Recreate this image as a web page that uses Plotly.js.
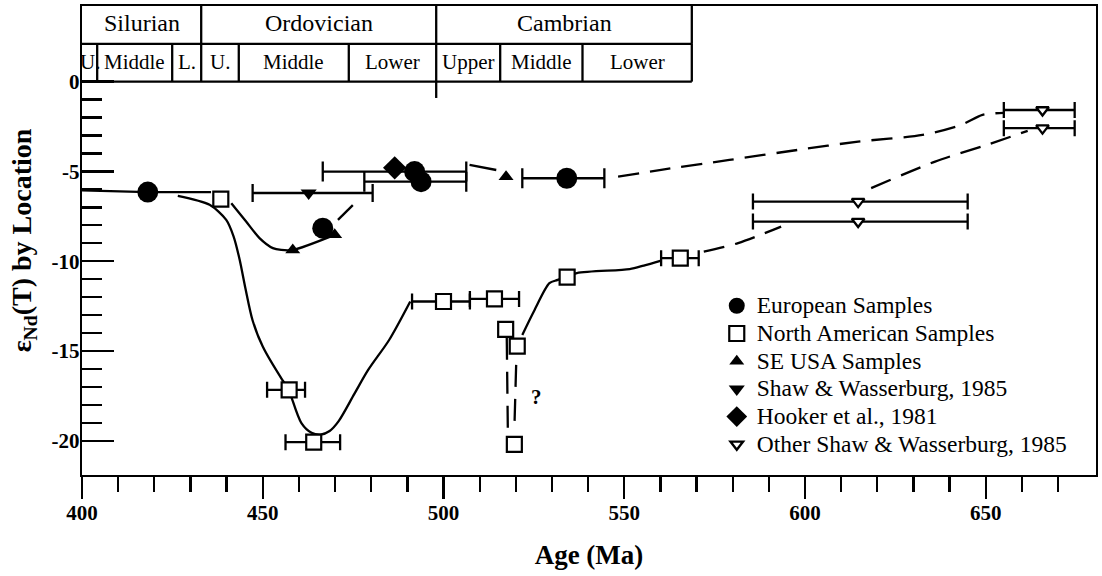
<!DOCTYPE html>
<html>
<head>
<meta charset="utf-8">
<script src="https://cdn.plot.ly/plotly-3.0.1.min.js"></script>
<style>html,body{margin:0;padding:0;background:#fff;}#chart{width:1102px;height:576px;}</style>
</head>
<body>
<div id="chart"></div>
<script>
// ---------------- DATA ----------------
// European Samples (filled circles)
const euAge = [418.2, 466.6, 492.0, 493.8, 534.1];
const euEps = [-6.15, -8.16, -5.01, -5.57, -5.38];
const euErrMinus = [0, 0, 25.4, 15.7, 12.3];
const euErrPlus  = [0, 0, 14.3, 12.5, 10.4];

// North American Samples (open squares)
const naAge = [438.4, 457.3, 464.1, 500.0, 514.1, 517.2, 520.4, 519.6, 534.2, 565.5];
const naEps = [-6.54, -17.16, -20.07, -12.24, -12.10, -13.79, -14.72, -20.20, -10.88, -9.83];
const naErrMinus = [0, 6.1, 7.8, 8.7, 6.8, 0, 0, 0, 0, 5.3];
const naErrPlus  = [0, 4.4, 7.3, 7.3, 6.8, 0, 0, 0, 0, 5.1];

// SE USA Samples (filled triangles)
const seAge = [458.3, 469.9, 517.3];
const seEps = [-9.37, -8.53, -5.29];

// Shaw & Wasserburg, 1985 (filled inverted triangle)
const swAge = [462.7];
const swEps = [-6.2];
const swErrMinus = [15.5];
const swErrPlus  = [17.7];

// Hooker et al., 1981 (diamond)
const hkAge = [486.5];
const hkEps = [-4.8];

// Other Shaw & Wasserburg, 1985 (open inverted triangles)
const osAge = [614.7, 614.7, 665.7, 665.7];
const osEps = [-6.68, -7.79, -1.58, -2.59];
const osErrMinus = [29.1, 29.1, 10.7, 10.7];
const osErrPlus  = [30.3, 30.3, 8.9, 8.9];

// Trend curves
const curveEuLeftAge = [400, 418.2, 435.7];
const curveEuLeftEps = [-6.05, -6.15, -6.15];

const curveNaDeepAge = [426.5, 435.3, 439.9, 441.9, 443.6, 445.2, 447.2, 450.0, 455.4, 457.3, 458.0, 460.7, 463.5, 466.0, 468.5, 471.0, 475.3, 479.2, 485.0, 490.8];
const curveNaDeepEps = [-6.36, -6.86, -7.70, -8.60, -9.90, -11.50, -13.30, -14.75, -16.60, -17.16, -17.60, -19.01, -19.55, -19.65, -19.45, -18.90, -17.40, -16.04, -14.37, -12.24];

const curveSeAge = [441.3, 445.4, 449.1, 452.8, 455.1, 458.3, 469.9];
const curveSeEps = [-6.77, -7.79, -8.71, -9.27, -9.37, -9.37, -8.53];

const dashSeAge = [470.8, 475.9];
const dashSeEps = [-7.70, -6.68];

const curveEuMidAge = [507.2, 514.6];
const curveEuMidEps = [-4.64, -4.92];

const dashUpperAge = [548.3, 560.2, 579.1, 598.1, 614.7, 632.5, 643.2, 649.1, 654.9];
const dashUpperEps = [-5.29, -4.91, -4.36, -3.80, -3.34, -2.97, -2.41, -1.85, -1.74];

const dashOtherAge = [618.3, 636.0, 650.3, 661.6];
const dashOtherEps = [-5.93, -4.45, -3.52, -2.74];

const curveNaRightAge = [521.8, 525.2, 529.3, 531.6, 536.9, 551.5, 555.4, 560.2];
const curveNaRightEps = [-14.10, -12.71, -11.22, -11.04, -10.66, -10.44, -10.24, -9.96];

const dashNaRightAge = [572.0, 581.5, 593.4];
const dashNaRightEps = [-9.46, -8.99, -8.07];

const dashQLeftAge = [517.5, 517.8];
const dashQLeftEps = [-14.26, -19.44];
const dashQRightAge = [520.1, 519.6];
const dashQRightEps = [-15.77, -19.38];

// Geologic time table
const periodNames = ['Silurian', 'Ordovician', 'Cambrian'];
const periodBounds = [400, 432.97, 497.98, 568.69];
const epochNames = ['U.', 'Middle', 'L.', 'U.', 'Middle', 'Lower', 'Upper', 'Middle', 'Lower'];
const epochBounds = [400, 404.2, 424.95, 432.97, 443.37, 473.8, 497.98, 515.68, 538.45, 568.69];

// Axis ticks
const xMajorTicks = [400, 450, 500, 550, 600, 650];
const xMinorTicks = [410, 420, 430, 440, 460, 470, 480, 490, 510, 520, 530, 540, 560, 570, 580, 590, 610, 620, 630, 640, 660, 670];
const yMajorTicks = [0, -5, -10, -15, -20];
const yMajorText = ['0', '-5', '-10', '-15', '-20'];
const yMinorTicks = [-1, -2, -3, -4, -6, -7, -8, -9, -11, -12, -13, -14, -16, -17, -18, -19];

// ---------------- STYLE ----------------
const SERIF = 'Liberation Serif';
const K = '#000';
const LW = 2.3;

function lineTrace(xs, ys, dash, shape) {
  return {x: xs, y: ys, type: 'scatter', mode: 'lines', showlegend: false, hoverinfo: 'skip',
          line: {color: K, width: LW, dash: dash || 'solid', shape: shape || 'spline', smoothing: 0.8}};
}
function errTrace(xs, ys, minus, plus, cap) {
  const ix = [];
  for (let i = 0; i < xs.length; i++) if (minus[i] > 0 || plus[i] > 0) ix.push(i);
  return {x: ix.map(i => xs[i]), y: ix.map(i => ys[i]), type: 'scatter', mode: 'markers',
          showlegend: false, hoverinfo: 'skip',
          marker: {size: 1, color: 'rgba(0,0,0,0)'},
          error_x: {type: 'data', symmetric: false, array: ix.map(i => plus[i]), arrayminus: ix.map(i => minus[i]),
                    color: K, thickness: LW, width: cap}};
}
function legendLabel(t) { return '<span style="font-size:23.5px">' + t + '</span>'; }

const LONGDASH = '21px,11px';

const traces = [
  lineTrace(curveEuLeftAge, curveEuLeftEps, 'solid', 'linear'),
  lineTrace(curveNaDeepAge, curveNaDeepEps),
  lineTrace(curveSeAge, curveSeEps),
  lineTrace(dashSeAge, dashSeEps, LONGDASH, 'linear'),
  lineTrace(curveEuMidAge, curveEuMidEps, 'solid', 'linear'),
  lineTrace(dashUpperAge, dashUpperEps, LONGDASH),
  lineTrace(dashOtherAge, dashOtherEps, LONGDASH),
  lineTrace(curveNaRightAge, curveNaRightEps),
  lineTrace(dashNaRightAge, dashNaRightEps, LONGDASH),
  lineTrace(dashQLeftAge, dashQLeftEps, '22px,12px', 'linear'),
  lineTrace(dashQRightAge, dashQRightEps, '22px,12px', 'linear'),
  errTrace(euAge, euEps, euErrMinus, euErrPlus, 10),
  errTrace(naAge, naEps, naErrMinus, naErrPlus, 8),
  errTrace(swAge, swEps, swErrMinus, swErrPlus, 9),
  errTrace(osAge, osEps, osErrMinus, osErrPlus, 8),
  {name: legendLabel('European Samples'), x: euAge, y: euEps, type: 'scatter', mode: 'markers',
   marker: {symbol: 'circle', size: 21, color: K, line: {width: 0}}},
  {name: legendLabel('North American Samples'), x: naAge, y: naEps, type: 'scatter', mode: 'markers',
   marker: {symbol: 'square', size: 15, color: '#fff', line: {color: K, width: 2.2}}},
  {name: legendLabel('SE USA Samples'), x: seAge, y: seEps, type: 'scatter', mode: 'markers',
   marker: {symbol: 'triangle-up', size: 13, color: K, line: {width: 0}}},
  {name: legendLabel('Shaw &amp; Wasserburg, 1985'), x: swAge, y: swEps, type: 'scatter', mode: 'markers',
   marker: {symbol: 'triangle-down', size: 14, color: K, line: {width: 0}}},
  {name: legendLabel('Hooker et al., 1981'), x: hkAge, y: hkEps, type: 'scatter', mode: 'markers',
   marker: {symbol: 'diamond', size: 18, color: K, line: {width: 0}}},
  {name: legendLabel('Other Shaw &amp; Wasserburg, 1985'), x: osAge, y: osEps, type: 'scatter', mode: 'markers',
   marker: {symbol: 'triangle-down', size: 11, color: '#fff', line: {color: K, width: 2.3}}}
];

// table shapes & labels
const TOP = 4.21, MID = 2.10, BOT = 0;
const shapes = [];
const annotations = [];
const sl = (x0, y0, x1, y1) => ({type: 'line', xref: 'x', yref: 'y', x0: x0, y0: y0, x1: x1, y1: y1, line: {color: K, width: LW}});
const tableEnd = periodBounds[periodBounds.length - 1];
shapes.push(sl(400, MID, tableEnd, MID));
shapes.push(sl(400, BOT, tableEnd, BOT));
periodBounds.slice(1).forEach(b => shapes.push(sl(b, MID, b, TOP)));
epochBounds.slice(1).forEach(b => shapes.push(sl(b, BOT, b, MID)));
shapes.push(sl(periodBounds[2], BOT, periodBounds[2], -0.91));
periodNames.forEach((n, i) => annotations.push({
  x: (periodBounds[i] + periodBounds[i + 1]) / 2, y: 3.28, xref: 'x', yref: 'y', text: n, showarrow: false,
  font: {family: SERIF, size: 24, color: K}}));
epochNames.forEach((n, i) => annotations.push({
  x: (epochBounds[i] + epochBounds[i + 1]) / 2, y: 1.10, xref: 'x', yref: 'y', text: n, showarrow: false,
  font: {family: SERIF, size: 21, color: K}}));
annotations.push({x: 525.8, y: -17.53, xref: 'x', yref: 'y', text: '?', showarrow: false,
  font: {family: SERIF, size: 21, color: K, weight: 'bold'}});

const tickFont = {family: SERIF, size: 21, color: K, weight: 'bold'};

const layout = {
  width: 1102, height: 576,
  margin: {l: 82, r: 6, t: 6, b: 101},
  paper_bgcolor: '#fff', plot_bgcolor: '#fff',
  showlegend: true,
  legend: {x: 0.626, y: 0.401, xanchor: 'left', yanchor: 'top', bgcolor: 'rgba(0,0,0,0)', borderwidth: 0,
           font: {family: SERIF, size: 19, color: K}, tracegroupgap: 0, itemclick: false},
  xaxis: {range: [400, 680.5], tickmode: 'array', tickvals: xMajorTicks, ticks: 'outside', ticklen: 22, tickwidth: LW,
          tickcolor: K, showline: true, linecolor: K, linewidth: LW, mirror: true, showgrid: false, zeroline: false,
          tickfont: tickFont, ticklabelstandoff: -5,
          minor: {tickmode: 'array', tickvals: xMinorTicks, ticks: 'outside', ticklen: 15, tickwidth: LW, tickcolor: K, showgrid: false},
          title: {text: 'Age (Ma)', font: {family: SERIF, size: 27, color: K, weight: 'bold'}, standoff: 22}},
  xaxis2: {range: [400, 680.5], overlaying: 'x', matches: 'x', anchor: 'y', side: 'bottom', tickmode: 'array', tickvals: xMajorTicks,
           ticks: 'inside', ticklen: 16, tickwidth: LW, tickcolor: K, showticklabels: false, showline: false,
           showgrid: false, zeroline: false,
           minor: {tickmode: 'array', tickvals: xMinorTicks, ticks: 'inside', ticklen: 8, tickwidth: LW, tickcolor: K, showgrid: false}},
  yaxis: {range: [-21.9, 4.21], tickmode: 'array', tickvals: yMajorTicks, ticktext: yMajorText, ticks: 'inside', ticklen: 32,
          tickwidth: LW, tickcolor: K, showline: true, linecolor: K, linewidth: LW, mirror: true, showgrid: false, zeroline: false,
          tickfont: tickFont, ticklabelstandoff: -4,
          minor: {tickmode: 'array', tickvals: yMinorTicks, ticks: 'inside', ticklen: 20, tickwidth: LW, tickcolor: K, showgrid: false},
          title: {text: 'ε<sub>Nd</sub>(T) by Location', font: {family: SERIF, size: 28, color: K, weight: 'bold'}, standoff: 12}},
  shapes: shapes,
  annotations: annotations
};

Plotly.newPlot('chart', traces, layout, {staticPlot: true, displayModeBar: false});
</script>
</body>
</html>
